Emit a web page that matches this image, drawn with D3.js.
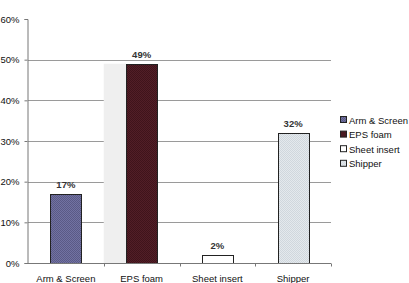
<!DOCTYPE html>
<html>
<head>
<meta charset="utf-8">
<script src="https://cdn.jsdelivr.net/npm/d3@7"></script>
<style>
  html, body { margin: 0; padding: 0; background: #fff; }
  svg { display: block; font-family: "Liberation Sans", Arial, sans-serif; }
</style>
</head>
<body>
<div id="chart"></div>
<script>
// data
const categories = ["Arm & Screen", "EPS foam", "Sheet insert", "Shipper"];
const values = [0.17, 0.49, 0.02, 0.32];
const yTicks = [0, 0.1, 0.2, 0.3, 0.4, 0.5, 0.6];

const COLORS = ["#62628f", "#4b1a22", "#ffffff", "#dde3e8"];

const W = 409, H = 283;
const svg = d3.select("#chart").append("svg")
    .attr("width", W).attr("height", H);

const defs = svg.append("defs");
// dithered textures like the scanned chart
function texture(id, base, dot) {
    const p = defs.append("pattern").attr("id", id)
        .attr("width", 2).attr("height", 2).attr("patternUnits", "userSpaceOnUse");
    p.append("rect").attr("width", 2).attr("height", 2).attr("fill", base);
    p.append("rect").attr("width", 1).attr("height", 1).attr("fill", dot);
    p.append("rect").attr("x", 1).attr("y", 1).attr("width", 1).attr("height", 1).attr("fill", dot);
}
texture("t0", "#7272a2", "#5a5a86");
texture("t1", "#521e27", "#3f141b");
texture("t3", "#e4e9ed", "#d0d7dd");
const fills = ["url(#t0)", "url(#t1)", COLORS[2], "url(#t3)"];

const x = d3.scaleBand().domain(categories).range([28, 331])
    .paddingInner(0.59).paddingOuter(0.295);
const y = d3.scaleLinear().domain([0, 0.6]).range([263, 19]);
const step = x.step();

// gridlines
svg.append("g").selectAll("line")
    .data(yTicks.filter(d => d > 0 && d < 0.6))
    .join("line")
    .attr("x1", 28).attr("x2", 331)
    .attr("y1", d => Math.round(y(d)) + 0.5).attr("y2", d => Math.round(y(d)) + 0.5)
    .attr("stroke", "#9a9a9a").attr("stroke-width", 1);

// light panel next to EPS foam bar
svg.append("rect")
    .attr("x", x("EPS foam") - step * 0.295)
    .attr("y", y(0.49))
    .attr("width", step * 0.295)
    .attr("height", y(0) - y(0.49))
    .attr("fill", "#efefef");

// bars
svg.append("g").selectAll("rect")
    .data(categories)
    .join("rect")
    .attr("x", d => Math.round(x(d)) + 0.5)
    .attr("y", (d, i) => Math.round(y(values[i])) + 0.5)
    .attr("width", Math.round(x.bandwidth()))
    .attr("height", (d, i) => Math.round(y(0)) - Math.round(y(values[i])))
    .attr("fill", (d, i) => fills[i])
    .attr("stroke", "#222").attr("stroke-width", 1);

// value labels
svg.append("g").selectAll("text")
    .data(categories)
    .join("text")
    .attr("x", d => x(d) + x.bandwidth() / 2)
    .attr("y", (d, i) => y(values[i]) - 6)
    .attr("text-anchor", "middle")
    .attr("font-size", 9.5).attr("font-weight", "bold").attr("fill", "#333")
    .text((d, i) => Math.round(values[i] * 100) + "%");

// y axis
const yAxis = svg.append("g").attr("transform", "translate(27.5,0)")
    .call(d3.axisLeft(y).tickValues(yTicks).tickFormat(d3.format(".0%")).tickSize(3).tickPadding(5));
yAxis.select(".domain").attr("stroke", "#777");
yAxis.selectAll(".tick line").attr("stroke", "#777");
yAxis.selectAll("text").attr("font-size", 9.5).attr("fill", "#111")
    .attr("font-family", "Liberation Sans, Arial, sans-serif");

// x axis
const xAxis = svg.append("g").attr("transform", `translate(0,${Math.round(y(0)) + 0.5})`)
    .call(d3.axisBottom(x).tickSize(0).tickPadding(12));
xAxis.select(".domain").attr("stroke", "#777").attr("d", "M28,0H331");
xAxis.selectAll("text").attr("font-size", 9.5).attr("fill", "#111")
    .attr("font-family", "Liberation Sans, Arial, sans-serif");
// tick marks between categories
xAxis.append("g").selectAll("line")
    .data(d3.range(1, categories.length + 1))
    .join("line")
    .attr("x1", i => Math.round(28 + i * step) + 0.5).attr("x2", i => Math.round(28 + i * step) + 0.5)
    .attr("y1", 0).attr("y2", 3)
    .attr("stroke", "#777");

// legend
const legend = svg.append("g").attr("transform", "translate(340,116)");
const li = legend.selectAll("g").data(categories).join("g")
    .attr("transform", (d, i) => `translate(0,${i * 14.6})`);
li.append("rect").attr("x", 0.5).attr("y", 0.5).attr("width", 6).attr("height", 6)
    .attr("fill", (d, i) => fills[i]).attr("stroke", "#222").attr("stroke-width", 1);
li.append("text").attr("x", 9).attr("y", 7.5)
    .attr("font-size", 9.5).attr("fill", "#111").text(d => d);
</script>
</body>
</html>
